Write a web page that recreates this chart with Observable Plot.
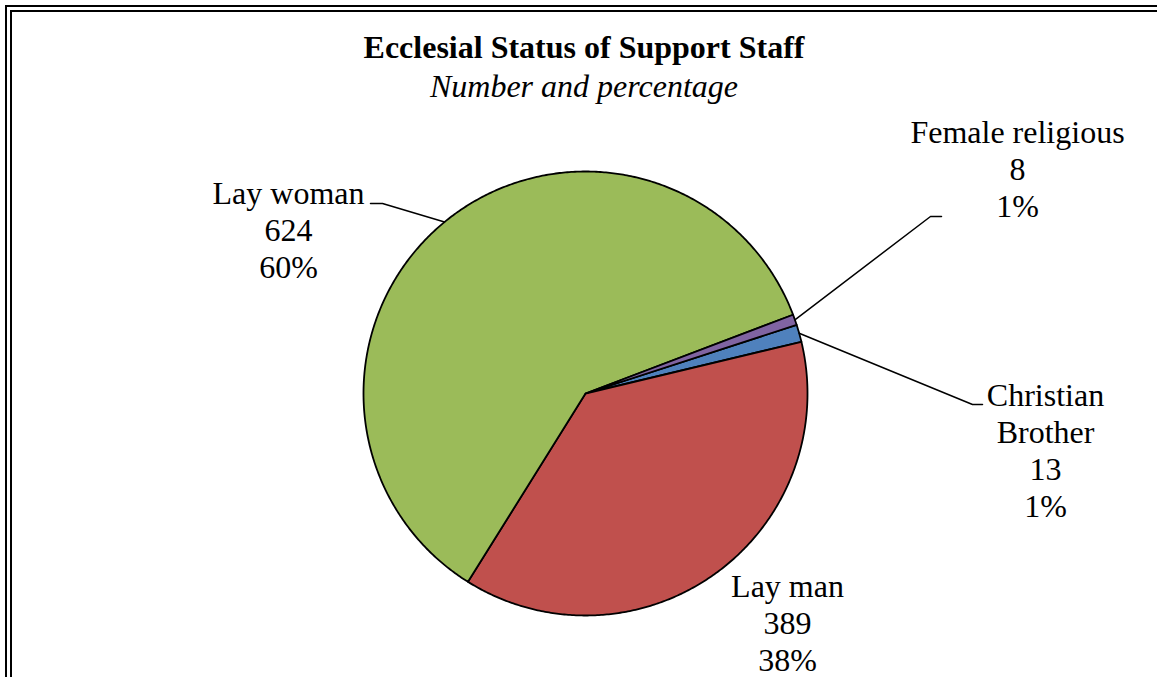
<!DOCTYPE html>
<html><head><meta charset="utf-8">
<script src="https://cdn.jsdelivr.net/npm/d3@7"></script>
<script src="https://cdn.jsdelivr.net/npm/@observablehq/plot@0.6"></script>
<style>
body{margin:0;background:#fff;}
#wrap{position:relative;width:1157px;height:677px;overflow:hidden;background:#fff;font-family:"Liberation Serif","Times New Roman",Tinos,Times,"DejaVu Serif",serif;color:#000;}
.b1{position:absolute;left:5px;top:5px;right:-20px;bottom:-20px;border-left:2px solid #000;border-top:2px solid #000;}
.b2{position:absolute;left:10px;top:10px;right:-20px;bottom:-20px;border-left:2px solid #000;border-top:2px solid #000;}
#title{position:absolute;left:0;width:1168px;top:32px;text-align:center;font-size:32px;font-weight:bold;line-height:30px;}
#subtitle{position:absolute;left:0;width:1168px;top:71px;text-align:center;font-size:32px;font-style:italic;line-height:30px;}
#chart{position:absolute;left:0;top:0;}
</style></head>
<body>
<div id="wrap">
  <div class="b1"></div><div class="b2"></div>
  <div id="title">Ecclesial Status of Support Staff</div>
  <div id="subtitle">Number and percentage</div>
  <div id="chart"></div>
</div>
<script>
// ---- data ----
const categories = ["Christian Brother", "Lay man", "Lay woman", "Female religious"];
const counts = [13, 389, 624, 8];
const labelNames = ["Christian\nBrother", "Lay man", "Lay woman", "Female religious"];
const colors = ["#4F81BD", "#C0504D", "#9BBB59", "#8064A2"];

// ---- layout ----
const W = 1157, H = 677, CX = 585, CY = 393, R = 222;
const firstSliceAngle = 72; // degrees, clockwise from 12 o'clock
const ux = px => (px - CX) / R;
const uy = py => (CY - py) / R;
const labelLayout = {
  "Christian Brother": {x: 1045, y: 449, leader: [[972, 404], [982, 404]]},
  "Lay man": {x: 787, y: 622, leader: null},
  "Lay woman": {x: 288, y: 229, leader: [[382, 203], [370, 203]]},
  "Female religious": {x: 1017, y: 168, leader: [[930, 216], [941, 216]]}
};

const total = d3.sum(counts);
const a0 = firstSliceAngle * Math.PI / 180;
const arcs = d3.pie().sort(null).startAngle(a0).endAngle(a0 + 2 * Math.PI)(counts);

const slicePts = [];
arcs.forEach((a, i) => {
  const cat = categories[i];
  slicePts.push({cat, x: 0, y: 0});
  const n = Math.max(2, Math.ceil((a.endAngle - a.startAngle) / (Math.PI / 360)));
  for (let k = 0; k <= n; k++) {
    const t = a.startAngle + (a.endAngle - a.startAngle) * k / n;
    slicePts.push({cat, x: Math.sin(t), y: Math.cos(t)});
  }
  slicePts.push({cat, x: 0, y: 0});
});

const leaderPts = [];
arcs.forEach((a, i) => {
  const cat = categories[i];
  const L = labelLayout[cat];
  if (!L.leader) return;
  const m = (a.startAngle + a.endAngle) / 2;
  leaderPts.push({cat, x: Math.sin(m), y: Math.cos(m)});
  L.leader.forEach(([px, py]) => leaderPts.push({cat, x: ux(px), y: uy(py)}));
});

const fmtPct = d3.format(".0%");
const labels = categories.map((cat, i) => ({
  cat,
  x: ux(labelLayout[cat].x),
  y: uy(labelLayout[cat].y),
  text: `${labelNames[i]}\n${counts[i]}\n${fmtPct(counts[i] / total)}`
}));

const serif = '"Liberation Serif","Times New Roman",Tinos,Times,"DejaVu Serif",serif';
const plot = Plot.plot({
  width: W, height: H,
  margin: 0,
  style: {background: "transparent", overflow: "visible", fontFamily: serif},
  x: {domain: [ux(0), ux(W)], range: [0, W], axis: null},
  y: {domain: [uy(H), uy(0)], range: [H, 0], axis: null},
  color: {domain: categories, range: colors},
  marks: [
    Plot.line(slicePts, {x: "x", y: "y", z: "cat", fill: "cat", stroke: "#000", strokeWidth: 1.8, strokeLinejoin: "round", curve: "linear"}),
    Plot.line(leaderPts, {x: "x", y: "y", z: "cat", stroke: "#000", strokeWidth: 1.5}),
    Plot.text(labels, {x: "x", y: "y", text: "text", fontSize: 32, fontFamily: serif, lineHeight: 1.156, lineAnchor: "middle", textAnchor: "middle", fill: "#000"})
  ]
});
document.getElementById("chart").appendChild(plot);
</script>
</body></html>
